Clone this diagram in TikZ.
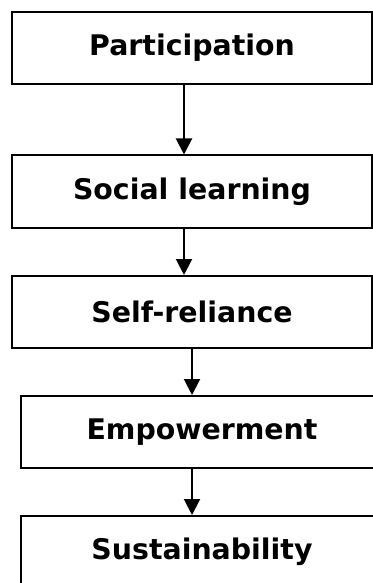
\documentclass[tikz,border=0pt]{standalone}
\usepackage{fontspec}
\setmainfont{DejaVu Sans}
\usetikzlibrary{arrows.meta}
\begin{document}
\begin{tikzpicture}[x=1bp,y=-1bp,
  stagebox/.style={draw=black,line width=2bp,minimum height=72bp,inner sep=0pt,
    font=\fontsize{28.5}{32}\selectfont\bfseries},
  flow/.style={-{Triangle[width=16bp,length=16bp]},line width=2bp}]
\useasboundingbox (0,0) rectangle (372,583);
\node[stagebox,minimum width=360bp] (p)  at (192,48)  {Participation};
\node[stagebox,minimum width=360bp] (sl) at (192,191.5) {Social learning};
\node[stagebox,minimum width=360bp] (sr) at (192,312) {Self-reliance};
\node[stagebox,minimum width=362bp] (em) at (202,432) {Empowerment};
\node[stagebox,minimum width=362bp] (su) at (202,552) {Sustainability};
\draw[flow] (p.south -| 184,0) -- (sl.north -| 184,0);
\draw[flow] (sl.south -| 184,0) -- (sr.north -| 184,0);
\draw[flow] (sr.south -| 192,0) -- (em.north -| 192,0);
\draw[flow] (em.south -| 192,0) -- (su.north -| 192,0);
\end{tikzpicture}
\end{document}
